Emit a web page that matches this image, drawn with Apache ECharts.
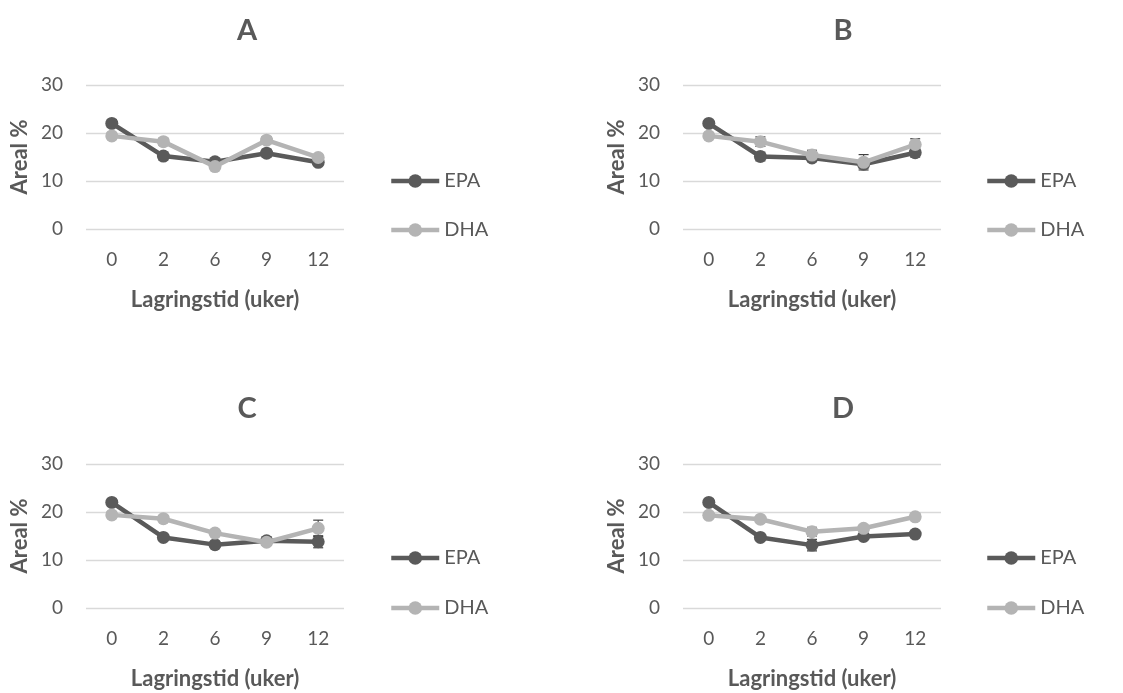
<!DOCTYPE html>
<html><head><meta charset="utf-8">
<script src="https://cdn.jsdelivr.net/npm/echarts@6/dist/echarts.min.js"></script>
<style>html,body{margin:0;padding:0;background:#fff}#c{width:1123px;height:693px}</style>
</head><body><div id="c"></div>
<script>
// ---- data ----
const categories = ['0', '2', '6', '9', '12'];
const panelTitles = ['A', 'B', 'C', 'D'];
const seriesNames = ['EPA', 'DHA'];
const yMin = 0, yMax = 30, yStep = 10;

const epaA = [22.0, 15.2, 14.0, 15.8, 13.9];
const dhaA = [19.4, 18.2, 13.0, 18.5, 14.9];
const epaErrA = [0.8, 0.8, 0.7, 0.8, 0.6];
const dhaErrA = [0.6, 0.7, 0.5, 0.7, 0.5];

const epaB = [22.0, 15.1, 14.8, 13.5, 15.9];
const dhaB = [19.4, 18.2, 15.4, 13.9, 17.6];
const epaErrB = [0.6, 0.9, 0.7, 0.8, 0.9];
const dhaErrB = [0.5, 1.0, 1.0, 1.6, 1.2];

const epaC = [22.0, 14.7, 13.2, 14.0, 13.8];
const dhaC = [19.4, 18.6, 15.6, 13.7, 16.6];
const epaErrC = [0.7, 0.6, 0.6, 0.8, 1.25];
const dhaErrC = [0.6, 0.6, 0.6, 0.6, 1.7];

const epaD = [22.0, 14.7, 13.1, 14.9, 15.4];
const dhaD = [19.3, 18.5, 15.9, 16.6, 19.0];
const epaErrD = [0.7, 0.6, 1.2, 0.6, 0.6];
const dhaErrD = [0.5, 0.5, 0.9, 0.6, 0.6];

const epaAll = [epaA, epaB, epaC, epaD];
const dhaAll = [dhaA, dhaB, dhaC, dhaD];
const epaErrAll = [epaErrA, epaErrB, epaErrC, epaErrD];
const dhaErrAll = [dhaErrA, dhaErrB, dhaErrC, dhaErrD];

// ---- layout / style ----
const FONT = 'Lato, "Open Sans", sans-serif';
const TXT = '#595959';
const EPA_COL = '#5a5a5a';
const DHA_COL = '#b4b4b4';
const GRID_COL = '#d9d9d9';
const panels = [
  {left: 86, top: 85, titleX: 242, titleY: 11, legX: 389, legY1: 180, legY2: 229},
  {left: 683, top: 85, titleX: 838, titleY: 11, legX: 985, legY1: 180, legY2: 229},
  {left: 86, top: 464, titleX: 242, titleY: 389, legX: 389, legY1: 557, legY2: 607},
  {left: 683, top: 464, titleX: 838, titleY: 389, legX: 985, legY1: 557, legY2: 607}
];
const GW = 258, GH = 144;

function errRender(params, api) {
  const x = api.value(0), lo = api.value(1), hi = api.value(2);
  const p1 = api.coord([x, lo]), p2 = api.coord([x, hi]);
  const w = 5;
  const st = {stroke: '#404040', lineWidth: 1.2};
  return {type: 'group', children: [
    {type: 'line', shape: {x1: p1[0], y1: p1[1], x2: p2[0], y2: p2[1]}, style: st},
    {type: 'line', shape: {x1: p1[0] - w, y1: p1[1], x2: p1[0] + w, y2: p1[1]}, style: st},
    {type: 'line', shape: {x1: p2[0] - w, y1: p2[1], x2: p2[0] + w, y2: p2[1]}, style: st}
  ]};
}

const option = {
  animation: false,
  backgroundColor: '#ffffff',
  title: [], grid: [], xAxis: [], yAxis: [], legend: [], series: []
};

panels.forEach((p, i) => {
  option.title.push({
    text: panelTitles[i], left: p.titleX, top: p.titleY, textAlign: 'center',
    textStyle: {fontFamily: FONT, fontSize: 29, fontWeight: 'bold', color: TXT}
  });
  option.grid.push({left: p.left, top: p.top, width: GW, height: GH, containLabel: false});
  option.xAxis.push({
    type: 'category', gridIndex: i, data: categories, boundaryGap: true,
    axisLine: {show: false}, axisTick: {show: false},
    axisLabel: {fontFamily: FONT, fontSize: 19, color: TXT, margin: 21},
    name: 'Lagringstid (uker)', nameLocation: 'middle', nameGap: 60,
    nameTextStyle: {fontFamily: FONT, fontSize: 22, fontWeight: 'bold', color: TXT}
  });
  option.yAxis.push({
    type: 'value', gridIndex: i, min: yMin, max: yMax, interval: yStep,
    axisLine: {show: false}, axisTick: {show: false},
    splitLine: {lineStyle: {color: GRID_COL, width: 1.3}},
    axisLabel: {fontFamily: FONT, fontSize: 19, color: TXT, margin: 23},
    name: 'Areal %', nameLocation: 'middle', nameGap: 55, nameRotate: 90,
    nameTextStyle: {fontFamily: FONT, fontSize: 22, fontWeight: 'bold', color: TXT}
  });
  [p.legY1, p.legY2].forEach((ly, k) => {
    option.legend.push({
      data: [seriesNames[k]], orient: 'vertical', left: p.legX, top: ly - 9,
      itemWidth: 48, itemHeight: 17, itemGap: 5, padding: 0, selectedMode: false,
      lineStyle: {width: 4.5},
      textStyle: {fontFamily: FONT, fontSize: 20, color: TXT, lineHeight: 18, padding: [0, 0, 0, 0]}
    });
  });
  // error bars
  const errData = [];
  categories.forEach((c, j) => {
    errData.push([j, epaAll[i][j] - epaErrAll[i][j], epaAll[i][j] + epaErrAll[i][j]]);
    errData.push([j, dhaAll[i][j] - dhaErrAll[i][j], dhaAll[i][j] + dhaErrAll[i][j]]);
  });
  option.series.push({
    type: 'custom', name: 'err' + i, xAxisIndex: i, yAxisIndex: i, z: 1,
    renderItem: errRender, data: errData, encode: {x: 0, y: [1, 2]}, silent: true
  });
  option.series.push({
    type: 'line', name: 'EPA', xAxisIndex: i, yAxisIndex: i, data: epaAll[i], z: 2,
    symbol: 'circle', symbolSize: 13, color: EPA_COL,
    lineStyle: {color: EPA_COL, width: 4.5}, itemStyle: {color: EPA_COL}
  });
  option.series.push({
    type: 'line', name: 'DHA', xAxisIndex: i, yAxisIndex: i, data: dhaAll[i], z: 3,
    symbol: 'circle', symbolSize: 13, color: DHA_COL,
    lineStyle: {color: DHA_COL, width: 4.5}, itemStyle: {color: DHA_COL}
  });
});

const chart = echarts.init(document.getElementById('c'), null, {renderer: 'canvas'});
chart.setOption(option);
</script>
</body></html>
